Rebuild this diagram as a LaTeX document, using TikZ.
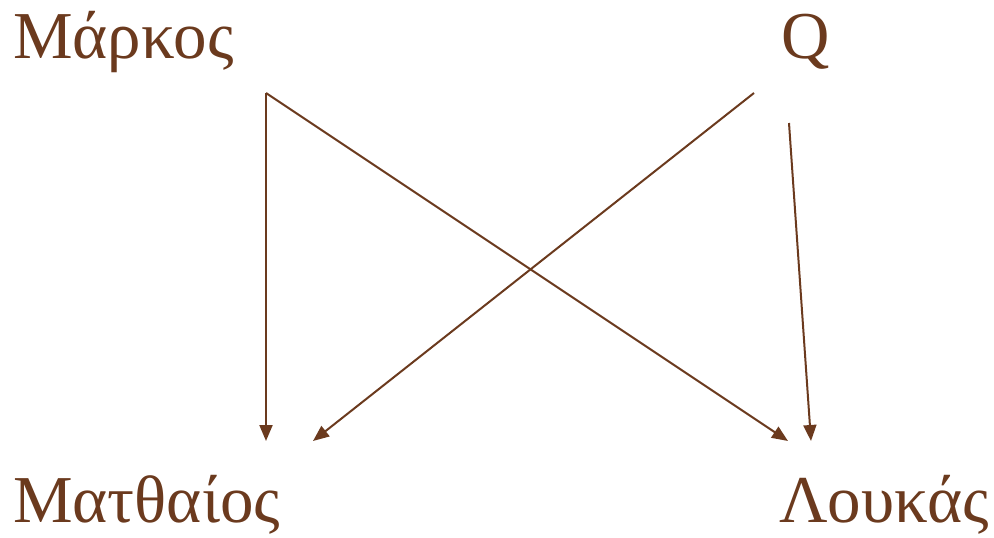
\documentclass[tikz,border=0pt]{standalone}
\usepackage{fontspec}
\setmainfont{Liberation Serif}
\usetikzlibrary{arrows.meta}
\definecolor{brown}{HTML}{6B3A1E}

\tikzset{
  gospel/.style={text=brown,inner sep=0pt,anchor=base west,font=\fontsize{67}{72}\selectfont},
  source/.style={draw=brown,line width=2pt,-{Triangle[length=16pt,width=13pt]}}
}

\begin{document}
\begin{tikzpicture}[x=1pt,y=-1pt]
  \useasboundingbox (0,0) rectangle (994,538);

  % texts
  \node[gospel] (mark) at (13,58) {Μάρκος};
  \node[gospel] (q) at (781,58) {Q};
  \node[gospel] (matt) at (13,522) {Ματθαίος};
  \node[gospel] (luke) at (779,522) {Λουκάς};

  % ends of the arrows
  \coordinate (mark-out) at (266,93);
  \coordinate (q-out1) at (754,93);
  \coordinate (q-out2) at (789,123);
  \coordinate (matt-in1) at (266,441);
  \coordinate (matt-in2) at (313,441);
  \coordinate (luke-in1) at (788,441);
  \coordinate (luke-in2) at (811,441);

  \draw[source] (mark-out) -- (matt-in1);
  \draw[source] (mark-out) -- (luke-in1);
  \draw[source] (q-out1) -- (matt-in2);
  \draw[source] (q-out2) -- (luke-in2);
\end{tikzpicture}
\end{document}
